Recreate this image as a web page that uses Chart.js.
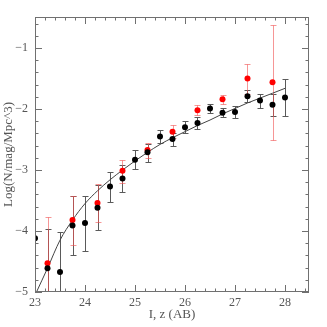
<!DOCTYPE html>
<html>
<head>
<meta charset="utf-8">
<script src="https://cdn.jsdelivr.net/npm/chart.js@4"></script>
<style>
  html, body { margin: 0; padding: 0; background: #fff; }
</style>
</head>
<body>
<canvas id="lf" width="327" height="327"></canvas>
<script>
// I-band (black) and z-band (red) number densities
const magI = [23, 23.25, 23.5, 23.75, 24, 24.25, 24.5, 24.75, 25, 25.25, 25.5, 25.75, 26, 26.25, 26.5, 26.75, 27, 27.25, 27.5, 27.75, 28];
const logNI = [-4.12, -4.61, -4.67, -3.91, -3.87, -3.62, -3.27, -3.14, -2.83, -2.71, -2.45, -2.49, -2.30, -2.23, -1.99, -2.06, -2.05, -1.79, -1.86, -1.93, -1.81];
const upperI = [null, -3.97, -4.02, -3.43, -3.43, -3.24, -3.03, -2.92, -2.67, -2.58, -2.34, -2.39, -2.19, -2.13, -1.91, -1.98, -1.95, -1.68, -1.76, -1.75, -1.51];
const lowerI = [null, -5.6, -5.6, -4.39, -4.32, -3.98, -3.52, -3.36, -2.98, -2.86, -2.56, -2.60, -2.39, -2.33, -2.07, -2.13, -2.15, -1.88, -1.98, -2.11, -2.11];

const magZ = [23.25, 23.75, 24.25, 24.75, 25.25, 25.75, 26.25, 26.75, 27.25, 27.75];
const logNZ = [-4.53, -3.82, -3.54, -3.01, -2.67, -2.37, -2.02, -1.84, -1.50, -1.56];
const upperZ = [-3.77, -3.42, -3.23, -2.83, -2.55, -2.26, -1.93, -1.77, -1.26, -0.62];
const lowerZ = [-5.6, -4.23, -3.86, -3.21, -2.80, -2.47, -2.10, -1.92, -1.75, -2.50];

// model curve
const fitMag = [23.03, 23.25, 23.5, 23.75, 24, 24.25, 24.5, 24.75, 25, 25.25, 25.5, 25.75, 26, 26.25, 26.5, 26.75, 27, 27.25, 27.5, 27.75, 28];
const fitLogN = [-5.0, -4.61, -4.15, -3.82, -3.55, -3.34, -3.16, -3.0, -2.85, -2.71, -2.58, -2.47, -2.37, -2.27, -2.18, -2.08, -1.99, -1.90, -1.82, -1.74, -1.66];

const xTicks = [23, 24, 25, 26, 27, 28];
const yTicks = [-5, -4, -3, -2, -1];

const toXY = (xs, ys) => xs.map((x, i) => ({x: x, y: ys[i]}));

// error bars, drawn before the points
const errorBars = {
    id: 'errorBars',
    beforeDatasetsDraw(chart) {
        const {ctx, chartArea, scales} = chart;
        const draw = (xs, hi, lo, color) => {
            ctx.strokeStyle = color;
            ctx.lineWidth = 1;
            xs.forEach((x, i) => {
                if (hi[i] === null) return;
                const px = Math.round(scales.x.getPixelForValue(x)) + 0.5;
                const top = Math.round(scales.y.getPixelForValue(hi[i])) + 0.5;
                const bot = Math.round(scales.y.getPixelForValue(lo[i])) + 0.5;
                ctx.beginPath();
                ctx.moveTo(px, top); ctx.lineTo(px, bot);
                ctx.moveTo(px - 3, top); ctx.lineTo(px + 3, top);
                ctx.moveTo(px - 3, bot); ctx.lineTo(px + 3, bot);
                ctx.stroke();
            });
        };
        ctx.save();
        ctx.beginPath();
        ctx.rect(chartArea.left, chartArea.top, chartArea.right - chartArea.left, chartArea.bottom - chartArea.top);
        ctx.clip();
        draw(magI, upperI, lowerI, '#5a5a5a');
        draw(magZ, upperZ, lowerZ, 'rgba(240, 80, 80, 0.6)');
        ctx.restore();
    }
};

// box frame with inward major/minor ticks on all sides
const frame = {
    id: 'frame',
    afterDraw(chart) {
        const {ctx, chartArea: a, scales} = chart;
        ctx.save();
        ctx.strokeStyle = '#707070';
        ctx.lineWidth = 1;
        ctx.strokeRect(a.left + 0.5, a.top + 0.5, a.right - a.left - 1, a.bottom - a.top - 1);
        ctx.beginPath();
        const xs = scales.x, ys = scales.y;
        for (let k = Math.ceil(xs.min * 5); k <= xs.max * 5 + 1e-6; k++) {
            const len = k % 5 === 0 ? 7 : 3.5;
            const px = Math.round(xs.getPixelForValue(k / 5)) + 0.5;
            ctx.moveTo(px, a.bottom); ctx.lineTo(px, a.bottom - len);
            ctx.moveTo(px, a.top); ctx.lineTo(px, a.top + len);
        }
        for (let k = Math.ceil(ys.min * 5); k <= ys.max * 5 + 1e-6; k++) {
            const len = k % 5 === 0 ? 7 : 3.5;
            const py = Math.round(ys.getPixelForValue(k / 5)) + 0.5;
            ctx.moveTo(a.left, py); ctx.lineTo(a.left + len, py);
            ctx.moveTo(a.right, py); ctx.lineTo(a.right - len, py);
        }
        ctx.stroke();
        ctx.restore();
    }
};

Chart.defaults.font.family = '"Liberation Serif", "DejaVu Serif", serif';
Chart.defaults.color = '#555';

new Chart(document.getElementById('lf'), {
    type: 'scatter',
    data: {
        datasets: [
            {
                label: 'I',
                data: toXY(magI, logNI),
                backgroundColor: '#000',
                borderWidth: 0,
                pointRadius: 3
            },
            {
                label: 'z',
                data: toXY(magZ, logNZ),
                backgroundColor: '#f00',
                borderWidth: 0,
                pointRadius: 3
            },
            {
                label: 'model',
                data: toXY(fitMag, fitLogN),
                showLine: true,
                borderColor: '#444',
                borderWidth: 1,
                pointRadius: 0,
                cubicInterpolationMode: 'monotone'
            }
        ]
    },
    options: {
        responsive: false,
        animation: false,
        events: [],
        layout: { padding: { top: 17, right: 18, left: 0, bottom: 0 } },
        plugins: { legend: { display: false }, tooltip: { enabled: false } },
        scales: {
            x: {
                type: 'linear',
                min: 23,
                max: 28.48,
                afterBuildTicks: s => { s.ticks = xTicks.map(v => ({value: v})); },
                afterFit: s => { s.height = 35; },
                grid: { display: false, drawTicks: false },
                border: { display: false },
                ticks: { padding: 4, font: { size: 12 }, maxRotation: 0 },
                title: { display: true, text: 'I, z (AB)', font: { size: 13 }, padding: { top: 0, bottom: 5 } }
            },
            y: {
                type: 'linear',
                min: -5,
                max: -0.49,
                afterBuildTicks: s => { s.ticks = yTicks.map(v => ({value: v})); },
                afterFit: s => { s.width = 35; },
                grid: { display: false, drawTicks: false },
                border: { display: false },
                ticks: {
                    padding: 7,
                    font: { size: 12 },
                    callback: v => (v < 0 ? '\u2212' : '') + Math.abs(v)
                },
                title: { display: true, text: 'Log(N/mag/Mpc^3)', font: { size: 13 }, padding: { top: 1, bottom: 0 } }
            }
        }
    },
    plugins: [errorBars, frame]
});
</script>
</body>
</html>
